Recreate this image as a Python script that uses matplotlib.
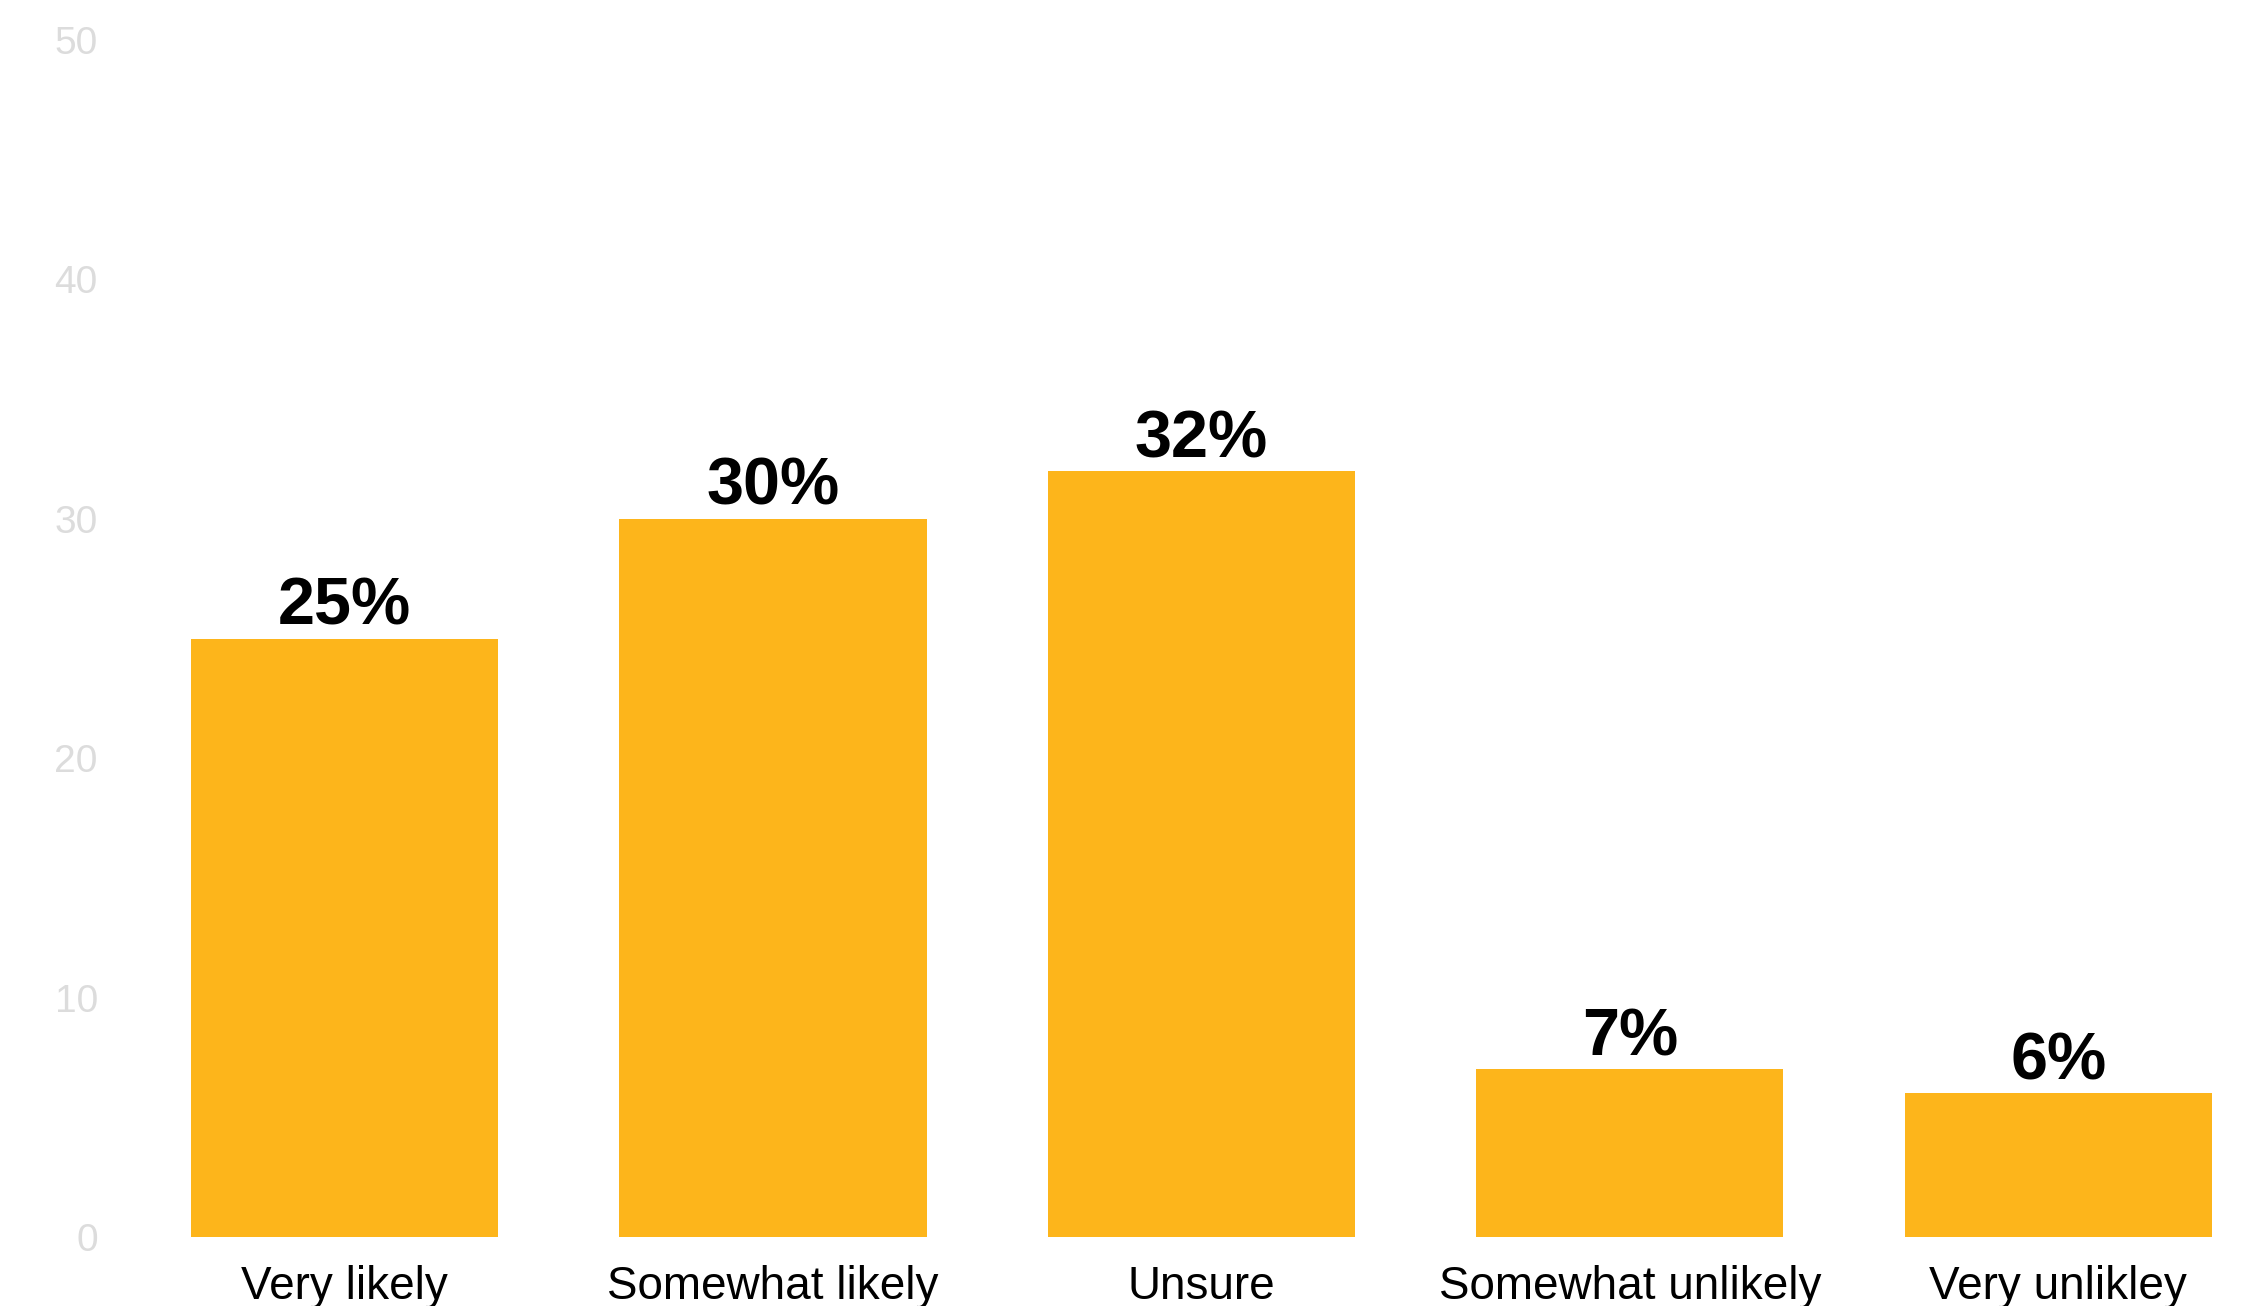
import matplotlib
matplotlib.use("Agg")
import matplotlib.pyplot as plt

categories = ["Very likely", "Somewhat likely", "Unsure", "Somewhat unlikely", "Very unlikley"]
shares = [25, 30, 32, 7, 6]
yticks = [0, 10, 20, 30, 40, 50]

plt.rcParams['font.family'] = ['Liberation Sans', 'DejaVu Sans']

fig = plt.figure(figsize=(22.43, 13.06), dpi=100)
ax = fig.add_axes([120 / 2243, 69 / 1306, 1 - 120 / 2243, 1197 / 1306])

pos = range(len(categories))
bars = ax.bar(pos, shares, width=0.717, color="#FDB51B")

for b, v in zip(bars, shares):
    ax.annotate("%d%%" % v, (b.get_x() + b.get_width() / 2, v),
                xytext=(0, 10), textcoords="offset points",
                ha="center", va="baseline", fontsize=48, fontweight="bold", color="black")

ax.set_xlim(-0.524, 4.431)
ax.set_ylim(0, 50)
ax.set_yticks(yticks)
ax.set_xticks(list(pos))
ax.set_xticklabels(categories, fontsize=33, color="black")
ax.tick_params(axis="x", length=0, pad=20)
ax.tick_params(axis="y", length=0, pad=16, labelsize=28, labelcolor="#dcdcdc")
for s in ax.spines.values():
    s.set_visible(False)

fig.savefig("out.png", dpi=100)
